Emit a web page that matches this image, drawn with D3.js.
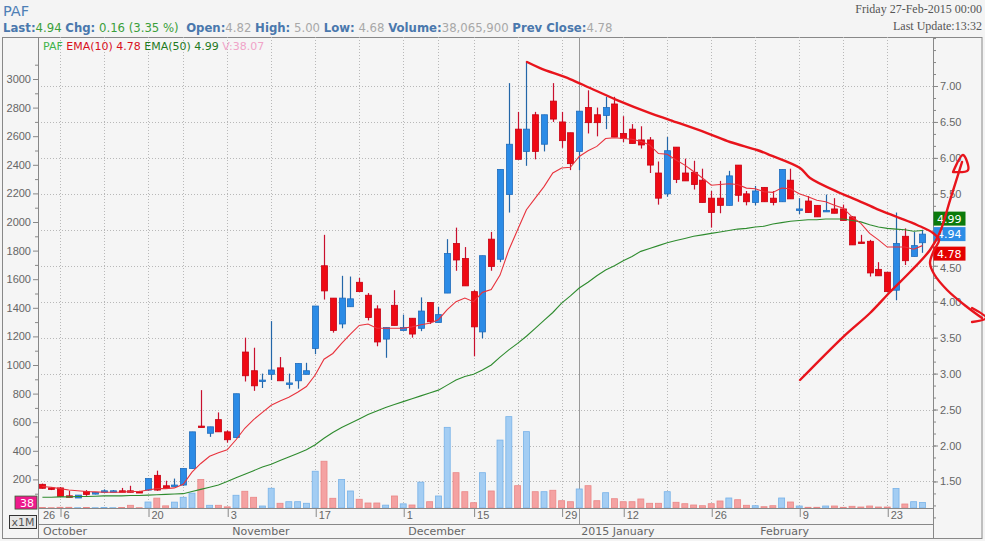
<!DOCTYPE html>
<html lang="en">
<head>
<meta charset="UTF-8">
<title>PAF</title>
<script src="https://d3js.org/d3.v7.min.js"></script>
<style>
  body { margin: 0; background: #f4f4f4; }
  svg { display: block; font-family: "DejaVu Sans", Verdana, sans-serif; }
  .axis text { font-size: 11px; fill: #666; }
  .axis line { stroke: #888; }
  .grid { stroke: #b8b8b8; stroke-dasharray: 1,2; }
</style>
</head>
<body>
<svg id="chart" width="985" height="541"></svg>
<script>
// daily OHLC, index 0 = 26 Sep 2014 ... index 100 = 27 Feb 2015
const opens = [1.46,1.41,1.41,1.30,1.27,1.36,1.33,1.35,1.35,1.37,1.37,1.36,1.38,1.585,1.44,1.43,1.45,1.68,2.27,2.17,
  2.36,2.19,2.11,3.30,3.04,2.89,2.99,3.08,2.86,2.90,2.99,3.35,4.50,4.05,3.69,3.93,4.27,4.09,3.90,3.48,
  3.95,3.60,3.77,3.63,3.99,3.71,4.12,4.81,4.60,4.14,3.58,4.87,4.59,5.49,6.40,6.09,6.60,6.19,6.79,6.50,
  6.35,6.09,6.70,6.60,6.59,6.75,6.34,6.40,6.25,6.25,5.79,5.50,6.15,5.79,5.80,5.69,5.44,5.44,5.34,5.90,
  5.50,5.38,5.59,5.44,5.39,5.69,5.27,5.40,5.34,5.25,5.29,5.29,5.18,4.83,4.84,4.45,4.41,4.16,4.91,4.63,4.82];
const highs = [1.47,1.42,1.42,1.37,1.31,1.38,1.35,1.39,1.38,1.41,1.44,1.37,1.54,1.65,1.51,1.54,1.68,2.19,2.77,2.26,
  2.46,2.21,2.72,3.50,3.36,3.00,3.73,3.23,3.00,3.14,3.15,3.94,4.93,4.05,4.36,4.35,4.33,4.12,3.95,3.64,
  4.16,3.82,3.77,4.06,3.99,3.93,4.87,5.03,4.76,4.16,4.64,4.97,5.84,7.04,6.64,7.34,6.64,6.60,7.04,6.64,
  6.35,6.65,6.94,6.70,6.85,6.85,6.58,6.47,6.44,6.29,5.95,6.29,6.15,5.99,5.96,5.85,5.54,5.68,5.82,5.90,
  5.54,5.61,5.59,5.54,5.84,5.85,5.44,5.47,5.34,5.49,5.44,5.35,5.19,4.93,4.86,4.55,4.41,5.24,5.02,4.97,5.00];
const lows = [1.40,1.38,1.28,1.28,1.27,1.30,1.32,1.35,1.35,1.35,1.35,1.35,1.37,1.37,1.41,1.43,1.44,1.68,2.25,2.12,
  2.19,2.04,2.11,2.89,2.76,2.80,2.91,2.90,2.79,2.79,2.99,3.27,4.03,3.57,3.63,3.93,4.14,3.74,3.38,3.22,
  3.67,3.60,3.50,3.59,3.69,3.71,4.12,4.43,4.22,3.24,3.49,4.43,4.55,5.24,5.98,5.89,5.98,6.09,6.50,6.14,
  5.83,5.83,6.34,6.30,6.40,6.29,6.22,6.20,6.13,5.79,5.35,5.46,5.65,5.68,5.56,5.38,5.03,5.23,5.34,5.39,
  5.34,5.34,5.39,5.34,5.39,5.43,5.22,5.24,5.18,5.25,5.23,5.13,4.79,4.81,4.35,4.36,4.14,4.02,4.51,4.63,4.68];
const closes = [1.405,1.39,1.29,1.28,1.31,1.32,1.345,1.37,1.37,1.35,1.35,1.35,1.54,1.38,1.41,1.45,1.68,2.19,2.26,2.26,
  2.19,2.08,2.72,2.97,2.83,2.91,3.05,2.90,2.87,3.14,3.04,3.94,4.15,3.60,4.05,4.04,4.14,3.78,3.44,3.64,
  3.67,3.64,3.55,3.87,3.72,3.82,4.67,4.58,4.22,3.65,4.64,4.49,5.84,6.19,5.98,6.40,6.09,6.60,6.54,6.24,
  5.92,6.65,6.49,6.49,6.70,6.29,6.27,6.20,6.18,5.90,5.44,6.10,5.70,5.68,5.63,5.38,5.24,5.34,5.75,5.48,
  5.39,5.54,5.39,5.38,5.84,5.43,5.29,5.24,5.18,5.27,5.23,5.13,4.79,4.81,4.40,4.36,4.14,4.81,4.57,4.78,4.94];
// volume in millions of shares
const volumes = [4,2,5,5,2,4,2,3,2,4,19,2,42,69,15,41,75,104,200,19,
  19,8,89,117,75,14,138,33,44,44,33,257,327,68,200,119,61,35,35,20,
  84,29,21,181,44,84,564,247,114,37,247,119,475,639,156,534,114,114,124,51,
  44,133,156,51,107,65,44,44,63,33,33,114,40,30,21,16,30,49,70,58,
  19,16,9,16,70,42,14,5,5,14,14,5,12,7,14,7,7,137,28,44,38];
// moving averages
const ema10 = [1.43,1.42,1.40,1.38,1.37,1.36,1.355,1.35,1.35,1.35,1.36,1.36,1.38,1.40,1.40,1.41,1.46,1.63,1.75,1.85,
  1.90,1.94,2.08,2.24,2.36,2.46,2.56,2.62,2.67,2.74,2.82,2.98,3.20,3.28,3.42,3.55,3.67,3.69,3.63,3.63,
  3.63,3.63,3.65,3.68,3.70,3.75,3.89,4.00,4.05,4.00,4.13,4.17,4.37,4.72,5.00,5.28,5.44,5.60,5.79,5.86,
  5.87,6.02,6.10,6.16,6.27,6.28,6.27,6.26,6.23,6.18,6.06,6.05,5.97,5.90,5.81,5.72,5.62,5.63,5.64,5.63,
  5.58,5.57,5.53,5.52,5.58,5.57,5.50,5.46,5.41,5.39,5.34,5.30,5.18,5.09,4.95,4.86,4.76,4.76,4.76,4.73,4.78];
const ema50 = [1.28,1.28,1.285,1.285,1.29,1.29,1.295,1.30,1.30,1.30,1.305,1.305,1.31,1.315,1.32,1.325,1.33,1.36,1.39,1.42,
  1.45,1.50,1.55,1.60,1.65,1.70,1.74,1.79,1.84,1.89,1.94,2.01,2.10,2.18,2.25,2.31,2.37,2.43,2.48,2.53,
  2.57,2.61,2.65,2.69,2.73,2.77,2.84,2.91,2.96,2.99,3.05,3.12,3.23,3.33,3.42,3.52,3.63,3.74,3.85,3.98,
  4.08,4.19,4.27,4.36,4.44,4.50,4.57,4.63,4.70,4.74,4.78,4.82,4.85,4.88,4.91,4.93,4.95,4.97,4.99,5.01,
  5.02,5.04,5.05,5.08,5.10,5.12,5.13,5.14,5.14,5.15,5.15,5.15,5.13,5.11,5.07,5.04,5.02,5.01,5.00,4.98,4.99];

const dayTicks = [[0,"26"],[2,"6"],[12,"20"],[21,"3"],[31,"17"],[41,"1"],[49,"15"],[59,"29"],[66,"12"],[76,"26"],[86,"9"],[96,"23"]];
const weekStarts = [2,7,12,16,21,26,31,36,41,45,49,54,59,66,71,76,81,86,91,96];
const months = [[-0.5,"October"],[21,"November"],[41,"December"],[61,"2015 January"],[81,"February"]];
const yearStart = 61;
// price labels that sit under the last-value tags
const priceTicks = [1.5,2,2.5,3,3.5,4,4.5,5.5,6,6.5,7];

// hand-drawn trend marks, [day index, price]
const trendDown = [[55.07,7.334],[56.55,7.25],[59.95,7.097],[62.23,6.972],[65.3,6.805],[69.05,6.624],[71.32,6.527],
  [75.52,6.346],[78.14,6.221],[81.2,6.11],[82.68,6.04],[86.09,5.859],[87.23,5.72],[90.64,5.512],[92.57,5.414],
  [94.84,5.289],[97.11,5.178],[99.39,5.067],[101.2,4.956],[101.89,4.858],[101.32,4.719],[100.86,4.538],
  [101.32,4.385],[102.8,4.163],[105.07,3.926],[106.77,3.773]];
const trendDownHead = [[105.64,3.912],[107.23,3.773],[105.64,3.717]];
const trendUp = [[86.09,2.911],[90.98,3.509],[94.05,3.843],[96.32,4.135],[98.59,4.413],[100.86,4.719],
  [102.0,4.969],[103.14,5.414],[104.5,5.943]];
const trendUpHead = [[103.48,5.804],[104.61,6.04],[105.18,5.831],[103.48,5.804]];

const svg = d3.select("#chart");
const L = 38, R = 933, T = 37, B = 508;

const x = d3.scaleLinear().domain([-0.5, 101.2]).range([L, R]);
const yP = d3.scaleLinear().domain([2, 7]).range([445.5, 86]);
const yV = d3.scaleLinear().domain([0, 3000]).range([B, 79]);
const last = closes.length - 1;

// header
const head = svg.append("text").attr("x", 3).attr("y", 32).attr("font-size", 11.7);
const parts = [["Last:", "k"], ["4.94 ", "g"], ["Chg:", "k"], [" 0.16 (3.35 %)  ", "g"], ["Open:", "k"], ["4.82 ", "v"],
  ["High:", "k"], [" 5.00 ", "v"], ["Low:", "k"], [" 4.68 ", "v"], ["Volume:", "k"], ["38,065,900 ", "v"],
  ["Prev Close:", "k"], ["4.78", "v"]];
parts.forEach(p => {
  head.append("tspan").text(p[0]).attr("xml:space", "preserve")
    .attr("font-weight", p[1] == "k" ? "bold" : "normal")
    .attr("fill", p[1] == "k" ? "#4a78ad" : p[1] == "g" ? "#3a9f3a" : "#a8a8a8");
});
svg.append("text").attr("x", 3).attr("y", 16).attr("font-size", 14.5).attr("fill", "#4e7fb6").text("PAF");
svg.append("text").attr("x", 982).attr("y", 13).attr("text-anchor", "end").attr("font-size", 12)
  .attr("font-family", "Liberation Serif, serif").attr("fill", "#555").text("Friday 27-Feb-2015 00:00");
svg.append("text").attr("x", 982).attr("y", 30).attr("text-anchor", "end").attr("font-size", 12)
  .attr("font-family", "Liberation Serif, serif").attr("fill", "#555").text("Last Update:13:32");

// frame
svg.append("rect").attr("x", 2.5).attr("y", T + 0.5).attr("width", 979.5).attr("height", 501)
  .attr("fill", "#f5f5f5").attr("stroke", "#888");

// grid
const grid = svg.append("g");
grid.selectAll(".h").data(d3.range(1.5, 7.01, 0.5)).join("line").attr("class", "grid")
  .attr("x1", L).attr("x2", R).attr("y1", d => Math.round(yP(d)) + 0.5).attr("y2", d => Math.round(yP(d)) + 0.5);
grid.selectAll(".v").data(weekStarts).join("line").attr("class", "grid")
  .attr("x1", d => Math.round(x(d)) + 0.5).attr("x2", d => Math.round(x(d)) + 0.5).attr("y1", T).attr("y2", B);
grid.append("line").attr("x1", Math.round(x(yearStart)) + 0.5).attr("x2", Math.round(x(yearStart)) + 0.5)
  .attr("y1", T).attr("y2", 524).attr("stroke", "#999");

svg.append("clipPath").attr("id", "plot").append("rect").attr("x", L).attr("y", T).attr("width", R - L).attr("height", B - T);
const plot = svg.append("g").attr("clip-path", "url(#plot)");

// volume bars
const idx = d3.range(closes.length);
const up = i => closes[i] >= opens[i];
plot.append("g").selectAll("rect").data(idx).join("rect")
  .attr("x", i => x(i) - 3).attr("width", 6)
  .attr("y", i => yV(volumes[i])).attr("height", i => B - yV(volumes[i]))
  .attr("fill", i => up(i) ? "#a3cdf3" : "#f4a2a2")
  .attr("stroke", i => up(i) ? "#78b2e8" : "#ea8787").attr("stroke-width", 0.8);

// candles
const candles = plot.append("g").selectAll("g").data(idx).join("g");
candles.append("line")
  .attr("x1", i => Math.round(x(i)) + 0.5).attr("x2", i => Math.round(x(i)) + 0.5)
  .attr("y1", i => yP(highs[i])).attr("y2", i => yP(lows[i]))
  .attr("stroke", i => up(i) ? "#2366a8" : "#c8102e").attr("stroke-width", 1.2);
candles.append("rect")
  .attr("x", i => Math.round(x(i)) - 2.5).attr("width", 6)
  .attr("y", i => yP(Math.max(opens[i], closes[i])))
  .attr("height", i => Math.max(1.5, Math.abs(yP(opens[i]) - yP(closes[i]))))
  .attr("fill", i => up(i) ? "#2b8be6" : "#ee0a14")
  .attr("stroke", i => up(i) ? "#1e6cbc" : "#c80012").attr("stroke-width", 0.8);

// EMA lines
const emaLine = arr => d3.line().x((d, i) => x(i)).y(d => yP(d))(arr);
plot.append("path").attr("d", emaLine(ema50)).attr("fill", "none").attr("stroke", "#2e8b2e").attr("stroke-width", 1.1);
plot.append("path").attr("d", emaLine(ema10)).attr("fill", "none").attr("stroke", "#e8323c").attr("stroke-width", 1.1);

// axes
const rightAxis = svg.append("g").attr("class", "axis").attr("transform", `translate(${R},0)`)
  .call(d3.axisRight(yP).tickValues(priceTicks).tickFormat(d3.format(".2f")).tickSize(5).tickPadding(2));
rightAxis.select(".domain").remove();
rightAxis.selectAll(".tick text").attr("dy", d => d == 4.5 ? "0.55em" : "0.32em");
svg.append("g").attr("class", "axis").attr("transform", `translate(${R},0)`)
  .call(d3.axisRight(yP).tickValues(d3.range(1.0, 7.7, 0.5 / 3).filter(v => yP(v) > T && yP(v) < 538)).tickFormat("").tickSize(3))
  .select(".domain").remove();
const leftAxis = svg.append("g").attr("class", "axis").attr("transform", `translate(${L},0)`)
  .call(d3.axisLeft(yV).tickValues(d3.range(200, 3001, 200)).tickFormat(d3.format("d")).tickSize(5).tickPadding(2));
leftAxis.select(".domain").remove();
svg.append("g").attr("class", "axis").attr("transform", `translate(${L},0)`)
  .call(d3.axisLeft(yV).tickValues(d3.range(100, 3101, 200)).tickFormat("").tickSize(3))
  .select(".domain").remove();

svg.append("line").attr("x1", R + 0.5).attr("x2", R + 0.5).attr("y1", T).attr("y2", 538).attr("stroke", "#888");
svg.append("line").attr("x1", L + 0.5).attr("x2", L + 0.5).attr("y1", T).attr("y2", 538).attr("stroke", "#888");
svg.append("line").attr("x1", L).attr("x2", R).attr("y1", B + 0.5).attr("y2", B + 0.5).attr("stroke", "#888");
svg.append("line").attr("x1", L).attr("x2", R).attr("y1", 524.5).attr("y2", 524.5).attr("stroke", "#888");

// date axis
const dateAxis = svg.append("g").attr("class", "axis").attr("transform", `translate(0,${B})`)
  .call(d3.axisBottom(x).tickValues(dayTicks.map(d => d[0])).tickFormat((d, i) => dayTicks[i][1]).tickSize(9).tickPadding(-1));
dateAxis.select(".domain").remove();
dateAxis.selectAll(".tick line").attr("transform", "translate(0.5,0)").attr("opacity", d => d == 0 ? 0 : 1);
dateAxis.selectAll(".tick text").attr("text-anchor", "start").attr("dx", d => d == 0 ? 0 : 3).attr("dy", "0.3em");
svg.append("g").selectAll("text").data(months).join("text")
  .attr("x", d => x(d[0]) + (d[0] == yearStart ? 2 : 5)).attr("y", 535)
  .attr("font-size", 11).attr("fill", "#666").text(d => d[1]);

// legend
const leg = svg.append("text").attr("x", 43).attr("y", 50).attr("font-size", 11);
[["PAF ", "#3fb34a"], ["EMA(10) 4.78 ", "#d8101c"], ["EMA(50) 4.99 ", "#1f7a1f"], ["V:38.07", "#f0a4c8"]]
  .forEach(p => leg.append("tspan").attr("xml:space", "preserve").attr("fill", p[1]).text(p[0]));

// last value markers
const tag = (yc, txt, col) => {
  svg.append("rect").attr("x", R + 0.5).attr("y", yc - 7).attr("width", 32).attr("height", 14).attr("fill", col);
  svg.append("text").attr("x", R + 4).attr("y", yc + 4).attr("font-size", 11).attr("fill", "#fff").text(txt);
};
const yLast = yP(closes[last]);
tag(yLast - 15.5, ema50[last].toFixed(2), "#0b7a0b");
tag(yLast, closes[last].toFixed(2), "#2d8de6");
tag(yP(ema10[last]) + 8, ema10[last].toFixed(2), "#e40000");

svg.append("rect").attr("x", 15).attr("y", yV(volumes[last]) - 6.5).attr("width", 22).attr("height", 13)
  .attr("fill", "#ee1a8c").attr("stroke", "#2f5f2f").attr("stroke-width", 0.8);
svg.append("text").attr("x", 34).attr("y", yV(volumes[last]) + 4).attr("text-anchor", "end")
  .attr("font-size", 11).attr("fill", "#fff").text(volumes[last]);
svg.append("rect").attr("x", 9.5).attr("y", 515.5).attr("width", 27).attr("height", 13)
  .attr("fill", "#e6e6e6").attr("stroke", "#333");
svg.append("text").attr("x", 23).attr("y", 526).attr("text-anchor", "middle")
  .attr("font-size", 11).attr("fill", "#555").text("x1M");

// hand-drawn trend marks
const mark = d3.line().x(d => x(d[0])).y(d => yP(d[1])).curve(d3.curveCatmullRom);
const marks = svg.append("g").attr("fill", "none").attr("stroke", "#e8141c").attr("stroke-width", 2.4)
  .attr("stroke-linecap", "round").attr("stroke-linejoin", "round");
[trendDown, trendDownHead, trendUp, trendUpHead].forEach(m => marks.append("path").attr("d", mark(m)));
</script>
</body>
</html>
